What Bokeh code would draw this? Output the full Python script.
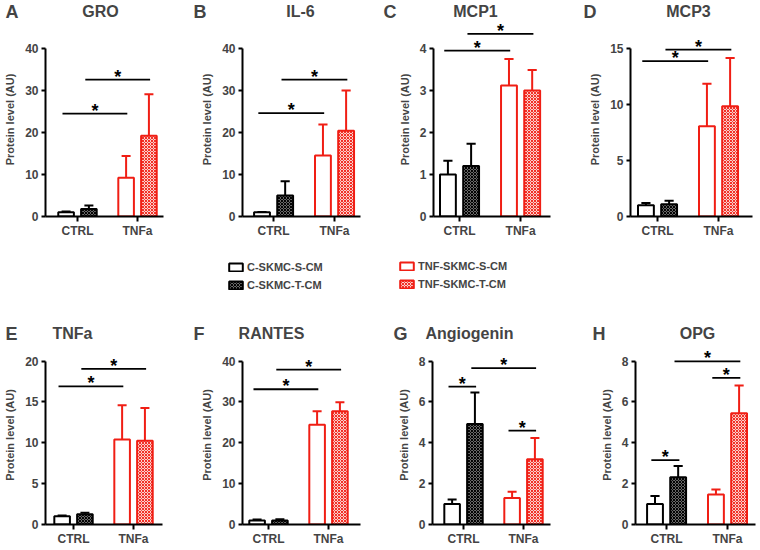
from bokeh.plotting import figure
from bokeh.layouts import column, row
from bokeh.models import Range1d, FixedTicker, Label, Legend, LegendItem, ColumnDataSource
from bokeh.core.properties import value
from bokeh.embed import file_html
from bokeh.resources import INLINE

# ---------------- data ----------------
panel_letters = ["A", "B", "C", "D", "E", "F", "G", "H"]
panel_titles = ["GRO", "IL-6", "MCP1", "MCP3", "TNFa", "RANTES", "Angiogenin", "OPG"]
group_labels = ["CTRL", "TNFa"]
series_names = ["C-SKMC-S-CM", "C-SKMC-T-CM", "TNF-SKMC-S-CM", "TNF-SKMC-T-CM"]
y_label = "Protein level (AU)"
y_max = [40, 40, 4, 15, 20, 40, 8, 8]
y_step = [10, 10, 1, 5, 5, 10, 2, 2]

# means / SD, order: C-S, C-T, TNF-S, TNF-T
gro_mean = [1.0, 1.8, 9.2, 19.2]
gro_err = [0.2, 0.8, 5.2, 9.9]
il6_mean = [1.0, 5.0, 14.5, 20.4]
il6_err = [0.1, 3.4, 7.4, 9.6]
mcp1_mean = [1.0, 1.2, 3.12, 3.0]
mcp1_err = [0.33, 0.53, 0.63, 0.49]
mcp3_mean = [1.0, 1.1, 8.05, 9.85]
mcp3_err = [0.2, 0.3, 3.8, 4.3]
tnfa_mean = [1.0, 1.25, 10.4, 10.25]
tnfa_err = [0.1, 0.2, 4.2, 4.0]
rantes_mean = [1.0, 1.0, 24.4, 27.7]
rantes_err = [0.2, 0.3, 3.3, 2.2]
angio_mean = [1.0, 4.92, 1.3, 3.2]
angio_err = [0.22, 1.54, 0.3, 1.04]
opg_mean = [1.0, 2.31, 1.47, 5.45]
opg_err = [0.4, 0.55, 0.24, 1.36]

means = [gro_mean, il6_mean, mcp1_mean, mcp3_mean, tnfa_mean, rantes_mean, angio_mean, opg_mean]
errs = [gro_err, il6_err, mcp1_err, mcp3_err, tnfa_err, rantes_err, angio_err, opg_err]

# significance brackets: (bar i, bar j, level)
sig_gro = [(0, 2, 24.5), (1, 3, 32.6)]
sig_il6 = [(0, 2, 24.6), (1, 3, 32.6)]
sig_mcp1 = [(0, 2, 3.95), (1, 3, 4.35)]
sig_mcp3 = [(0, 2, 13.87), (1, 3, 14.9)]
sig_tnfa = [(0, 2, 16.9), (1, 3, 19.05)]
sig_rantes = [(0, 2, 33.1), (1, 3, 37.9)]
sig_angio = [(0, 1, 6.75), (1, 3, 7.65), (2, 3, 4.6)]
sig_opg = [(0, 1, 3.15), (1, 3, 7.98), (2, 3, 7.18)]
sigs = [sig_gro, sig_il6, sig_mcp1, sig_mcp3, sig_tnfa, sig_rantes, sig_angio, sig_opg]

# ---------------- style / layout ----------------
FONT = "Liberation Sans"
RED = "#f01e14"
BAR_W = 0.26
OFF = 0.19
group_pos = [1, 2]
bar_x = [group_pos[0] - OFF, group_pos[0] + OFF, group_pos[1] - OFF, group_pos[1] + OFF]

styles = [
    dict(fill_color="white", line_color="black"),
    dict(fill_color="#9a9a9a", line_color="black", hatch_pattern="diagonal_cross",
         hatch_color="black", hatch_scale=3.0, hatch_weight=1.2),
    dict(fill_color="white", line_color=RED),
    dict(fill_color="#fbd0cc", line_color=RED, hatch_pattern="diagonal_cross",
         hatch_color=RED, hatch_scale=3.0, hatch_weight=0.9),
]
err_colors = ["black", "black", RED, RED]

# (fig width, border left, border right, x_start, x_end)
panel_layout = [
    (190, 45, 27, 0.467, 2.433),
    (190, 52, 20, 0.49, 2.426),
    (190, 53, 20, 0.574, 2.49),
    (186, 60, 4, 0.557, 2.557),
    (190, 45, 28, 0.533, 2.483),
    (190, 52, 20, 0.567, 2.533),
    (190, 52, 20, 0.483, 2.45),
    (186, 65, 1, 0.49, 2.459),
]
# title centre x and letter left x (page pixels)
title_x = [100, 300, 475, 688, 72, 271, 469, 697]
letter_x = [5, 193, 383, 583, 5, 193, 393, 592]

TOP_ROW = dict(h=228, bottom=34, axis_px=168)
BOT_ROW = dict(h=203, bottom=19, axis_px=168)


def make_panel(k):
    fw, bl, br, xs, xe = panel_layout[k]
    rc = TOP_ROW if k < 4 else BOT_ROW
    frame_h = rc["h"] - rc["bottom"]
    ymax = y_max[k]
    y_end = ymax * frame_h / rc["axis_px"]
    p = figure(width=fw, height=rc["h"], x_range=Range1d(xs, xe), y_range=Range1d(0, y_end),
               toolbar_location=None, output_backend="svg",
               min_border_left=bl, min_border_right=br, min_border_top=0,
               min_border_bottom=rc["bottom"])
    p.outline_line_color = None
    p.xgrid.visible = False
    p.ygrid.visible = False

    for i in range(4):
        src = ColumnDataSource(dict(x=[bar_x[i]], top=[means[k][i]]))
        p.vbar(x="x", top="top", width=BAR_W, bottom=0, source=src, line_width=2, **styles[i])
        t = means[k][i]
        e = errs[k][i]
        p.segment(x0=[bar_x[i]], y0=[t], x1=[bar_x[i]], y1=[t + e], line_color=err_colors[i], line_width=2)
        p.segment(x0=[bar_x[i] - 0.075], y0=[t + e], x1=[bar_x[i] + 0.075], y1=[t + e],
                  line_color=err_colors[i], line_width=2)

    for (i, j, lvl) in sigs[k]:
        x0 = bar_x[i] - 0.06
        x1 = bar_x[j] + 0.02
        p.segment(x0=[x0], y0=[lvl], x1=[x1], y1=[lvl], line_color="black", line_width=1.8)
        p.text(x=[(x0 + x1) / 2], y=[lvl], text=["*"], text_align="center", text_baseline="alphabetic",
               y_offset=-3, text_font=value(FONT), text_font_style="bold", text_font_size="18px",
               text_color="black")

    ya = p.yaxis[0]
    ya.bounds = (0, ymax)
    ya.ticker = FixedTicker(ticks=list(range(0, ymax + 1, y_step[k])))
    ya.axis_label = y_label
    ya.axis_label_text_font = FONT
    ya.axis_label_text_font_style = "bold"
    ya.axis_label_text_font_size = "11px"
    ya.axis_label_standoff = 6
    ya.major_label_text_font = FONT
    ya.major_label_text_font_style = "bold"
    ya.major_label_text_font_size = "12px"
    ya.major_label_standoff = 3
    ya.minor_tick_line_color = None
    ya.major_tick_in = 0
    ya.major_tick_out = 4
    ya.major_tick_line_width = 2
    ya.axis_line_width = 2

    xa = p.xaxis[0]
    xa.ticker = FixedTicker(ticks=group_pos)
    xa.major_label_overrides = {group_pos[0]: group_labels[0], group_pos[1]: group_labels[1]}
    xa.major_label_text_font = FONT
    xa.major_label_text_font_style = "bold"
    xa.major_label_text_font_size = "12px"
    xa.major_label_standoff = 2
    xa.minor_tick_line_color = None
    xa.major_tick_in = 0
    xa.major_tick_out = 5
    xa.major_tick_line_width = 2
    xa.axis_line_width = 2
    return p


panels = [make_panel(k) for k in range(8)]


def strip(height):
    s = figure(width=756, height=height, x_range=Range1d(0, 1), y_range=Range1d(0, 1),
               toolbar_location=None, output_backend="svg", min_border=0,
               x_axis_type=None, y_axis_type=None)
    s.outline_line_color = None
    return s


def add_titles(s, ks, y):
    for k in ks:
        s.add_layout(Label(x=title_x[k], y=y, x_units="screen", y_units="screen", text=panel_titles[k],
                           text_align="center", text_baseline="middle", text_font=FONT,
                           text_font_style="bold", text_font_size="16px"))
        s.add_layout(Label(x=letter_x[k], y=y, x_units="screen", y_units="screen", text=panel_letters[k],
                           text_align="left", text_baseline="middle", text_font=FONT,
                           text_font_style="bold", text_font_size="18px"))


# header above the top row
head = strip(22)
add_titles(head, range(4), 11)

# middle strip: legend + titles of the bottom row
mid = strip(95)
rends = []
for i in range(4):
    r = mid.vbar(x=[0], top=[0], width=0.1, line_width=2, **styles[i])
    r.visible = False
    rends.append(r)

common = dict(orientation="vertical", glyph_width=17, glyph_height=10, spacing=6, padding=0,
              margin=0, border_line_color=None, background_fill_alpha=0,
              label_text_font=FONT, label_text_font_style="bold", label_text_font_size="11px",
              label_standoff=3, label_height=10)
leg1 = Legend(items=[LegendItem(label=series_names[0], renderers=[rends[0]]),
                     LegendItem(label=series_names[1], renderers=[rends[1]])],
              location=(227, 54), **common)
leg2 = Legend(items=[LegendItem(label=series_names[2], renderers=[rends[2]]),
                     LegendItem(label=series_names[3], renderers=[rends[3]])],
              location=(398, 55), **common)
mid.add_layout(leg1)
mid.add_layout(leg2)
add_titles(mid, range(4, 8), 12)

layout = column(head, row(*panels[:4]), mid, row(*panels[4:]))
open("out.html", "w").write(file_html(layout, INLINE))
